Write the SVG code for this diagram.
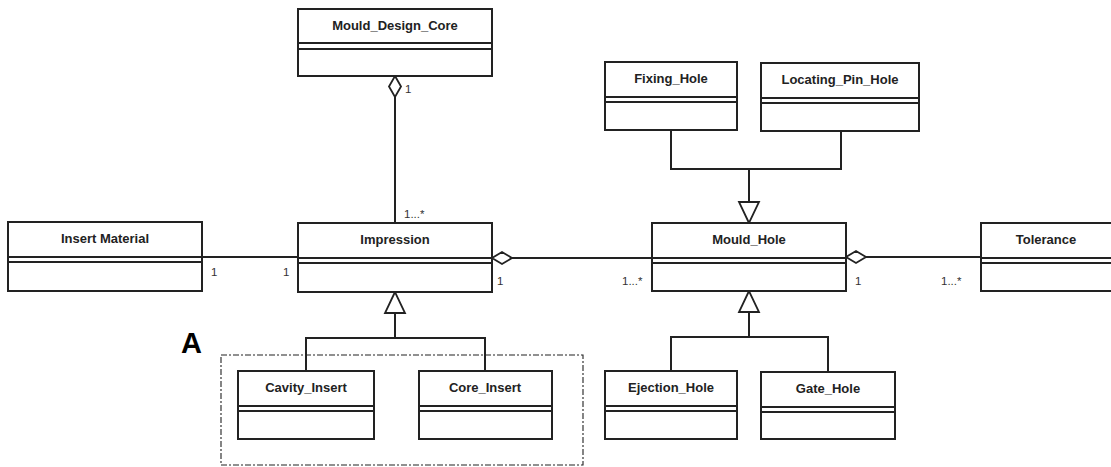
<svg xmlns="http://www.w3.org/2000/svg" width="1111" height="467" viewBox="0 0 1111 467">
<style>
.box{fill:#fff;stroke:#222;stroke-width:2}
.sep{stroke:#222;stroke-width:1.8}
.t{font-family:"Liberation Sans",Arial,sans-serif;font-weight:bold;font-size:13px;fill:#222;text-anchor:middle}
.m{font-family:"Liberation Sans",Arial,sans-serif;font-size:11.5px;fill:#333}
.ln{fill:none;stroke:#222;stroke-width:2}
.hd{fill:#fff;stroke:#222;stroke-width:1.8}
</style>
<rect width="1111" height="467" fill="#fff"/>

<g id="connectors">
  <line class="ln" x1="395" y1="97" x2="395" y2="223"/>
  <polygon class="hd" points="395,76 401,86.5 395,97 389,86.5"/>
  <line class="ln" x1="202" y1="257" x2="298" y2="257"/>
  <line class="ln" x1="512" y1="258" x2="652" y2="258"/>
  <polygon class="hd" points="492,258 502,252 512,258 502,264"/>
  <line class="ln" x1="866" y1="257" x2="981" y2="257"/>
  <polygon class="hd" points="846,257 856,251 866,257 856,263"/>
  <path class="ln" d="M671,130 V169 H841 V131 M749,169 V202"/>
  <polygon class="hd" points="749,223 739,202 759,202"/>
  <path class="ln" d="M395,313 V338 M306,371 V338 H485 V371"/>
  <polygon class="hd" points="395,292 385,313 405,313"/>
  <path class="ln" d="M749,312 V337 M671,371 V337 H828 V372"/>
  <polygon class="hd" points="749,291 739,312 759,312"/>
  <text class="m" x="405" y="93">1</text>
  <text class="m" x="404" y="218">1...*</text>
  <text class="m" x="211" y="276">1</text>
  <text class="m" x="283" y="276">1</text>
  <text class="m" x="497" y="285">1</text>
  <text class="m" x="622" y="285">1...*</text>
  <text class="m" x="855" y="285">1</text>
  <text class="m" x="941" y="285">1...*</text>
</g>

<g id="group-A">
  <rect x="221" y="355" width="362" height="110" fill="none" stroke="#222" stroke-width="1.1" stroke-dasharray="6,2,2,2"/>
  <text x="181" y="353" font-family="Liberation Sans,Arial,sans-serif" font-weight="bold" font-size="29" fill="#000">A</text>
</g>

<g id="Mould_Design_Core">
  <rect class="box" x="298" y="9" width="194" height="67"/>
  <line class="sep" x1="298" y1="43" x2="492" y2="43"/><line class="sep" x1="298" y1="49" x2="492" y2="49"/>
  <text class="t" x="395" y="30">Mould_Design_Core</text>
</g>
<g id="Insert_Material">
  <rect class="box" x="8" y="222" width="194" height="69"/>
  <line class="sep" x1="8" y1="257" x2="202" y2="257"/><line class="sep" x1="8" y1="262" x2="202" y2="262"/>
  <text class="t" x="105" y="243">Insert Material</text>
</g>
<g id="Impression">
  <rect class="box" x="298" y="223" width="194" height="69"/>
  <line class="sep" x1="298" y1="258" x2="492" y2="258"/><line class="sep" x1="298" y1="263" x2="492" y2="263"/>
  <text class="t" x="395" y="244">Impression</text>
</g>
<g id="Mould_Hole">
  <rect class="box" x="652" y="223" width="194" height="68"/>
  <line class="sep" x1="652" y1="258" x2="846" y2="258"/><line class="sep" x1="652" y1="263" x2="846" y2="263"/>
  <text class="t" x="749" y="244">Mould_Hole</text>
</g>
<g id="Tolerance">
  <rect class="box" x="981" y="223" width="140" height="68"/>
  <line class="sep" x1="981" y1="258" x2="1111" y2="258"/><line class="sep" x1="981" y1="263" x2="1111" y2="263"/>
  <text class="t" x="1046" y="244">Tolerance</text>
</g>
<g id="Fixing_Hole">
  <rect class="box" x="605" y="62" width="132" height="68"/>
  <line class="sep" x1="605" y1="97" x2="737" y2="97"/><line class="sep" x1="605" y1="102" x2="737" y2="102"/>
  <text class="t" x="671" y="83">Fixing_Hole</text>
</g>
<g id="Locating_Pin_Hole">
  <rect class="box" x="761" y="63" width="158" height="68"/>
  <line class="sep" x1="761" y1="98" x2="919" y2="98"/><line class="sep" x1="761" y1="103" x2="919" y2="103"/>
  <text class="t" x="840" y="84">Locating_Pin_Hole</text>
</g>
<g id="Cavity_Insert">
  <rect class="box" x="238" y="371" width="136" height="68"/>
  <line class="sep" x1="238" y1="406" x2="374" y2="406"/><line class="sep" x1="238" y1="411" x2="374" y2="411"/>
  <text class="t" x="306" y="392">Cavity_Insert</text>
</g>
<g id="Core_Insert">
  <rect class="box" x="419" y="371" width="133" height="68"/>
  <line class="sep" x1="419" y1="406" x2="552" y2="406"/><line class="sep" x1="419" y1="411" x2="552" y2="411"/>
  <text class="t" x="485" y="392">Core_Insert</text>
</g>
<g id="Ejection_Hole">
  <rect class="box" x="605" y="371" width="132" height="68"/>
  <line class="sep" x1="605" y1="406" x2="737" y2="406"/><line class="sep" x1="605" y1="411" x2="737" y2="411"/>
  <text class="t" x="671" y="392">Ejection_Hole</text>
</g>
<g id="Gate_Hole">
  <rect class="box" x="761" y="372" width="134" height="67"/>
  <line class="sep" x1="761" y1="407" x2="895" y2="407"/><line class="sep" x1="761" y1="412" x2="895" y2="412"/>
  <text class="t" x="828" y="393">Gate_Hole</text>
</g>
</svg>
